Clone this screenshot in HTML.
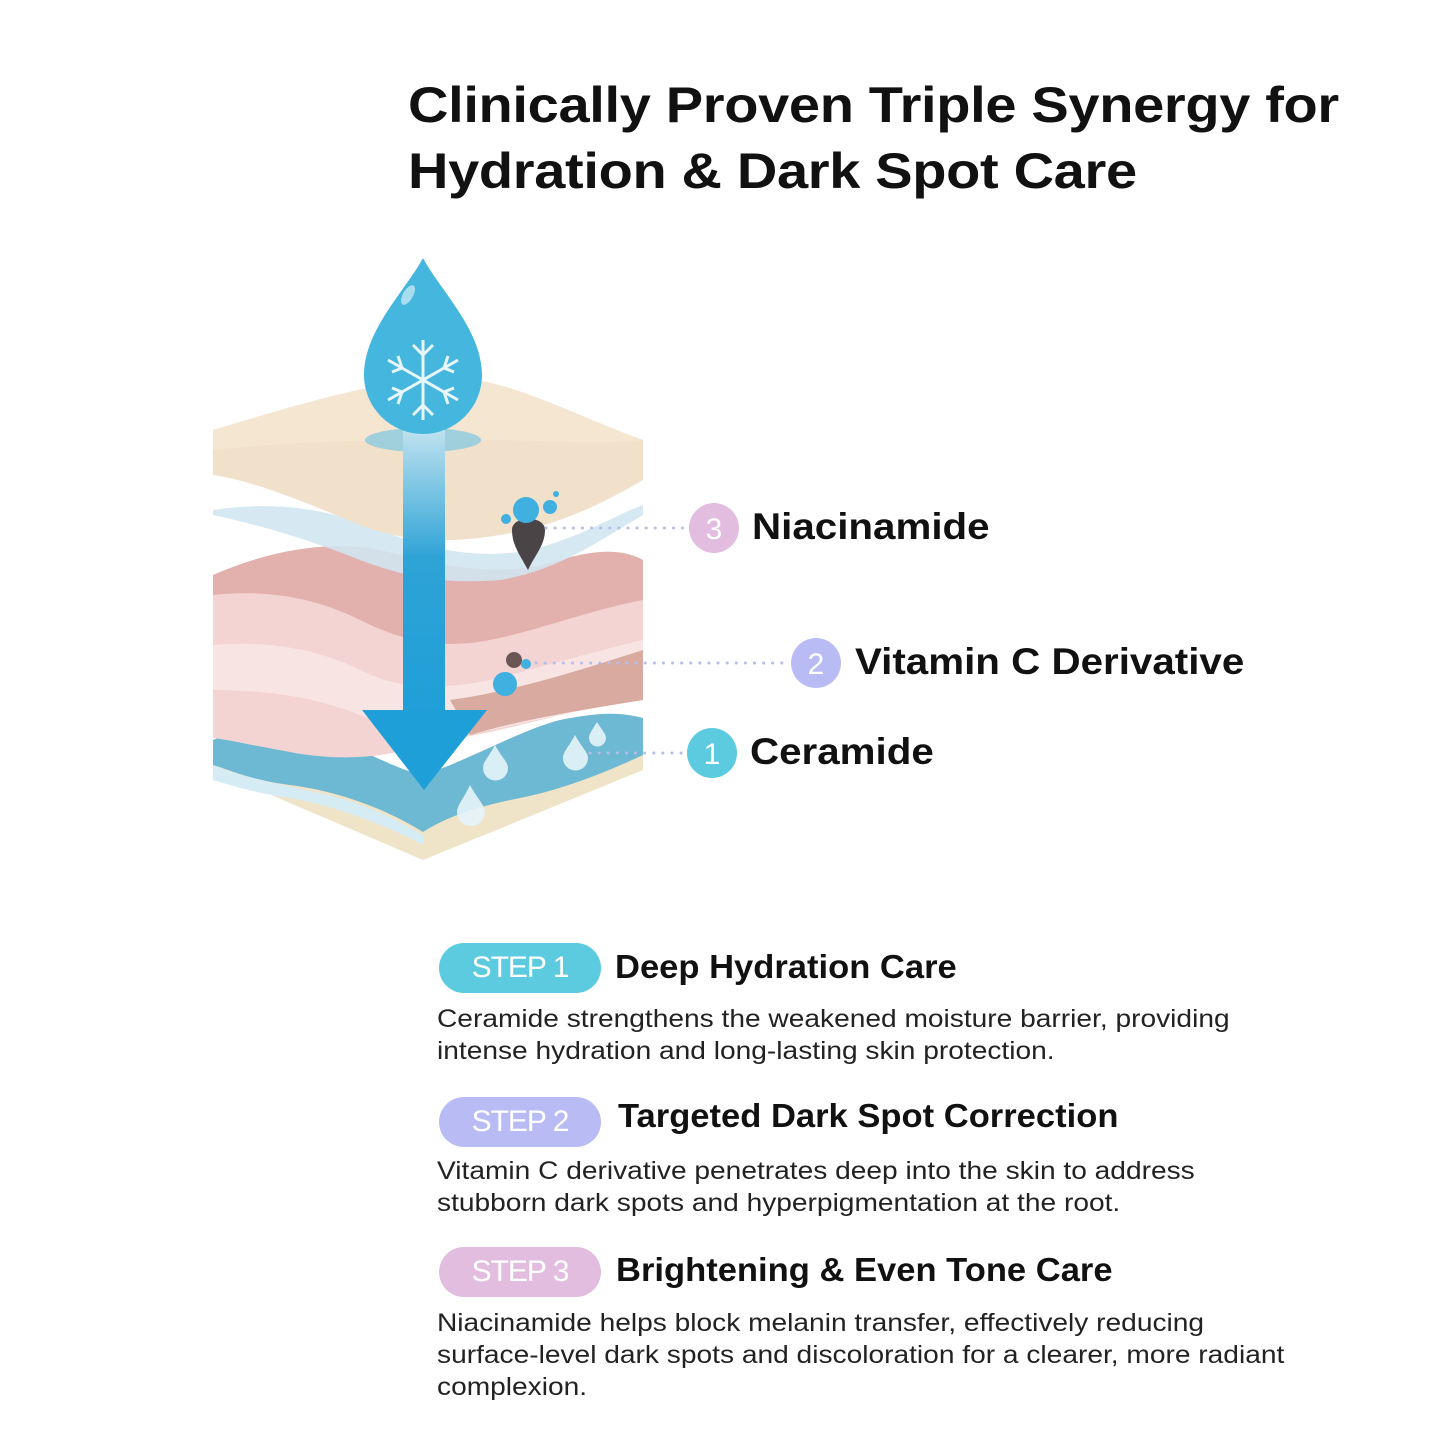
<!DOCTYPE html>
<html><head><meta charset="utf-8"><style>
html,body{margin:0;padding:0;background:#fff;}
body{width:1445px;height:1445px;position:relative;overflow:hidden;font-family:"Liberation Sans",sans-serif;color:#111;}
.t{position:absolute;white-space:nowrap;transform-origin:0 0;}
.title{left:408px;top:72px;font-size:50px;font-weight:bold;line-height:66px;letter-spacing:-0.3px;transform:scaleX(1.12);}
.lab{font-size:37px;font-weight:bold;transform:scaleX(1.09);}
.pill{position:absolute;left:439px;width:162px;height:50px;border-radius:25px;color:#fff;font-size:30px;text-align:center;line-height:50px;letter-spacing:-1px;}
.h{font-size:33px;font-weight:bold;transform:scaleX(1.047);}
.b{font-size:25px;line-height:32px;color:#222;left:437px;transform:scaleX(1.125);}
</style></head><body>
<div class="t title">Clinically Proven Triple Synergy for<br>Hydration &amp; Dark Spot Care</div>

<svg width="1445" height="1445" style="position:absolute;left:0;top:0">
<path d="M213,770 L423,860 L643,770 L643,740 L423,820 L213,740 Z" fill="#efe3c8"/>
<path d="M213,740 C260,720 290,715 330,735 C370,755 400,770 423,775 C470,760 520,730 560,720 C600,712 620,712 643,718 L643,755 C600,775 560,790 520,798 C480,806 450,815 423,832 C380,805 330,790 290,785 C250,780 230,770 213,765 Z" fill="#6db8d2"/>
<path d="M213,765 C250,780 300,788 340,798 C380,810 400,822 423,835 L423,845 C380,822 330,805 290,798 C250,792 230,785 213,780 Z" fill="#d6ecf4"/>
<path d="M213,575 C270,550 330,540 380,550 C440,565 500,580 560,560 C600,548 625,550 643,560 L643,700 C600,705 560,715 520,725 C480,735 450,740 423,745 C380,760 330,760 290,752 C250,745 230,740 213,738 Z" fill="#f3d4d2"/>
<path d="M213,575 C270,550 330,540 380,550 C440,565 500,580 560,560 C600,548 625,550 643,560 L643,600 C590,610 540,630 490,640 C440,650 400,640 360,620 C310,595 260,590 213,595 Z" fill="#e2b1ad"/>
<path d="M213,645 C270,640 320,650 360,670 C400,690 440,690 490,680 C550,665 600,650 643,640 L643,700 C600,705 540,720 490,730 C440,740 400,730 360,715 C310,695 260,690 213,690 Z" fill="#f8e5e3"/>
<path d="M450,700 C520,690 580,670 643,650 L643,700 C580,710 520,720 470,735 Z" fill="#d8aaa0"/>
<path d="M213,510 C280,500 330,510 380,530 C430,550 480,560 530,550 C580,538 615,515 643,505 L643,515 C600,540 560,570 500,580 C440,585 400,575 360,560 C310,540 260,525 213,515 Z" fill="#d2e6ef" opacity="0.9"/>
<path d="M213,430 C280,410 360,385 430,378 C500,372 560,410 643,440 L643,480 C600,505 560,525 500,535 C440,545 400,540 360,525 C300,500 250,480 213,475 Z" fill="#f1e1cb"/>
<path d="M213,430 C280,410 360,385 430,378 C500,372 560,410 643,440 C600,445 540,440 480,440 C400,440 300,440 213,450 Z" fill="#f5e6d2"/>
<defs><linearGradient id="ag" x1="0" y1="0" x2="0" y2="1"><stop offset="0" stop-color="#bfe2ef"/><stop offset="0.45" stop-color="#2ea3d6"/><stop offset="1" stop-color="#1f9fd8"/></linearGradient></defs>
<ellipse cx="423" cy="440" rx="58" ry="12" fill="#8ccbe0" opacity="0.8"/>
<rect x="403" y="430" width="42" height="285" fill="url(#ag)"/>
<path d="M362,710 L487,710 L424,790 Z" fill="#1f9fd8"/>
<path d="M423,258 C440,290 482,330 482,375 A59,59 0 0 1 364,375 C364,330 406,290 423,258 Z" fill="#45b6dd"/>
<ellipse cx="408" cy="295" rx="5" ry="11" fill="#a8dcef" transform="rotate(30 408 295)"/>
<g stroke="#e6f6fb" stroke-width="3" fill="none">
<line x1="423" y1="340" x2="423" y2="420"/><line x1="388" y1="360" x2="458" y2="400"/><line x1="388" y1="400" x2="458" y2="360"/>
<path d="M413,345 L423,355 L433,345 M413,415 L423,405 L433,415 M392,372 L402,368 L398,356 M454,388 L444,392 L448,404 M392,388 L402,392 L398,404 M454,372 L444,368 L448,356"/>
</g>
<path d="M512,530 C512,515 545,515 545,530 C545,545 535,555 528,570 C520,555 512,545 512,530 Z" fill="#4a4447"/>
<circle cx="526" cy="510" r="13" fill="#3fb0e0"/><circle cx="550" cy="507" r="7" fill="#3fb0e0"/><circle cx="506" cy="519" r="5" fill="#3fb0e0"/><circle cx="556" cy="494" r="3" fill="#3fb0e0"/>
<circle cx="514" cy="660" r="8" fill="#6b5655"/><circle cx="505" cy="684" r="12" fill="#3fb0e0"/><circle cx="526" cy="664" r="5" fill="#3fb0e0"/>
<g fill="#e6f4fa" opacity="0.9">
<path d="M470,785 C478,800 485,805 485,812 A13,13 0 0 1 457,812 C457,805 463,800 470,785 Z"/>
<path d="M495,745 C502,758 508,762 508,768 A12,12 0 0 1 483,768 C483,762 488,758 495,745 Z"/>
<path d="M575,735 C582,748 588,752 588,758 A12,12 0 0 1 563,758 C563,752 568,748 575,735 Z"/>
<path d="M597,722 C602,730 606,734 606,738 A8,8 0 0 1 589,738 C589,734 592,730 597,722 Z"/>
</g>
<g stroke="#b6bde8" stroke-width="3" stroke-dasharray="0.1 9" stroke-linecap="round">
<line x1="546" y1="528" x2="686" y2="528"/>
<line x1="536" y1="663" x2="786" y2="663"/>
<line x1="590" y1="753" x2="682" y2="753"/>
</g>
<circle cx="714" cy="528" r="25" fill="#e3bde0"/>
<circle cx="816" cy="663" r="25" fill="#b9bbf5"/>
<circle cx="712" cy="753" r="25" fill="#5ccbdf"/>
<g fill="#fff" font-family="Liberation Sans" font-size="30" text-anchor="middle">
<text x="714" y="539">3</text><text x="816" y="674">2</text><text x="712" y="764">1</text>
</g>
</svg>

<div class="t lab" style="left:752px;top:506px">Niacinamide</div>
<div class="t lab" style="left:855px;top:641px">Vitamin C Derivative</div>
<div class="t lab" style="left:750px;top:731px">Ceramide</div>

<div class="pill" style="top:943px;background:#5ccbdf">STEP 1</div>
<div class="t h" style="left:615px;top:948px">Deep Hydration Care</div>
<div class="t b" style="top:1003px">Ceramide strengthens the weakened moisture barrier, providing<br>intense hydration and long-lasting skin protection.</div>

<div class="pill" style="top:1097px;background:#b9bbf5">STEP 2</div>
<div class="t h" style="left:618px;top:1097px">Targeted Dark Spot Correction</div>
<div class="t b" style="top:1155px">Vitamin C derivative penetrates deep into the skin to address<br>stubborn dark spots and hyperpigmentation at the root.</div>

<div class="pill" style="top:1247px;background:#e3bde0">STEP 3</div>
<div class="t h" style="left:616px;top:1251px">Brightening &amp; Even Tone Care</div>
<div class="t b" style="top:1307px">Niacinamide helps block melanin transfer, effectively reducing<br>surface-level dark spots and discoloration for a clearer, more radiant<br>complexion.</div>
</body></html>
